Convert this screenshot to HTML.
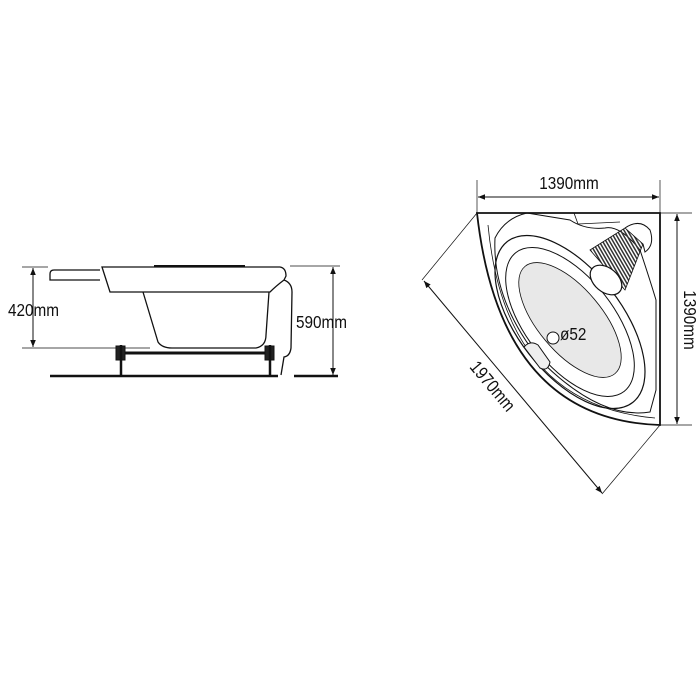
<!DOCTYPE html>
<html><head><style>body{margin:0;background:#fff}svg{display:block}text{font-family:"Liberation Sans",sans-serif;fill:#111}</style></head>
<body>
<svg width="700" height="700" viewBox="0 0 700 700" xmlns="http://www.w3.org/2000/svg">
<defs>
<marker id="a" viewBox="0 0 10 10" refX="10" refY="5" markerWidth="7" markerHeight="7" orient="auto-start-reverse"><path d="M0,1 L10,5 L0,9 z" fill="#111"/></marker>
<pattern id="h" width="3" height="3" patternUnits="userSpaceOnUse" patternTransform="rotate(60)"><rect width="3" height="1.5" fill="#333"/></pattern>
</defs>
<g stroke="#111" fill="none" stroke-width="1">
<line x1="22" y1="267" x2="48" y2="267" stroke-width="0.7"/>
<line x1="22" y1="348" x2="150" y2="348" stroke-width="0.7"/>
<line x1="33" y1="268" x2="33" y2="347" marker-start="url(#a)" marker-end="url(#a)"/>
<line x1="290" y1="266" x2="340" y2="266" stroke-width="0.7"/>
<line x1="333" y1="267" x2="333" y2="375" marker-start="url(#a)" marker-end="url(#a)"/>
<path d="M100,270 L54,270 Q50,270 50,274 L50,280 L100,280" stroke-width="1.3"/>
<path d="M102,267 L280,267 Q286,268 286,276 L284,280 Q276,286 270,292 L146,292 L140,292 L110,292 L102,267 z" stroke-width="1.3"/>
<path d="M154,266 L245,266" stroke-width="2"/>
<path d="M143,292 L158,342 Q162,348 172,348 L256,348 Q266,346 266,335 L269,292" stroke-width="1.3"/>
<path d="M284,280 Q292,283 292,292 L291,348 Q290,356 284,357 L281,375" stroke-width="1.3"/>
<line x1="120" y1="353" x2="272" y2="353" stroke-width="3"/>
<rect x="116" y="346" width="9" height="14" fill="#222"/><line x1="121" y1="345" x2="121" y2="375" stroke-width="2.5"/>
<rect x="265" y="346" width="9" height="14" fill="#222"/><line x1="270" y1="345" x2="270" y2="375" stroke-width="2.5"/>
<line x1="50" y1="376" x2="278" y2="376" stroke-width="2.5"/>
<line x1="294" y1="376" x2="338" y2="376" stroke-width="2.5"/>
<line x1="477" y1="180" x2="477" y2="213" stroke-width="0.7"/>
<line x1="660" y1="180" x2="660" y2="213" stroke-width="0.7"/>
<line x1="478" y1="197" x2="659" y2="197" marker-start="url(#a)" marker-end="url(#a)"/>
<line x1="660" y1="213" x2="692" y2="213" stroke-width="0.7"/>
<line x1="660" y1="425" x2="692" y2="425" stroke-width="0.7"/>
<line x1="677" y1="214" x2="677" y2="424" marker-start="url(#a)" marker-end="url(#a)"/>
<line x1="477" y1="213" x2="422" y2="280" stroke-width="0.7"/>
<line x1="660" y1="425" x2="602" y2="494" stroke-width="0.7"/>
<line x1="424" y1="281" x2="602" y2="493" marker-start="url(#a)" marker-end="url(#a)"/>
<path d="M477,213 L660,213 L660,425 Q500,420 477,213 z" stroke-width="1.8"/>
<path d="M488,225 Q505,405 655,418" stroke-width="0.8"/>
<path d="M527,213 Q505,218 495,238 Q492,300 540,360 Q600,420 650,412 L656,390 L656,300 Q650,280 640,250 Q620,225 605,228 Q585,230 570,220 L527,213" stroke-width="1"/>
<path d="M574,213 L578,224 L620,222" stroke-width="0.8"/>
<ellipse cx="570" cy="322" rx="102" ry="52" transform="rotate(52 570 322)" stroke-width="1.2"/>
<ellipse cx="570" cy="322" rx="88" ry="44" transform="rotate(52 570 322)" stroke-width="1"/>
<ellipse cx="570" cy="320" rx="70" ry="32" transform="rotate(50 570 320)" fill="#e8e8e8" stroke-width="0.8"/>
<path d="M590,250 L625,228 L643,244 L625,290 z" fill="url(#h)" stroke-width="0.8"/>
<path d="M625,228 Q640,218 650,230 Q655,245 645,252 L643,244" stroke-width="1"/>
<ellipse cx="606" cy="280" rx="18" ry="12" transform="rotate(40 606 280)" fill="#fff" stroke-width="1.2"/>
<path d="M524,347 Q530,340 538,345 L550,362 Q548,372 540,368 z" fill="#eee" stroke-width="1"/>
<circle cx="553" cy="338" r="6" fill="#fff" stroke-width="1"/>
</g>
<g font-size="18">
<text transform="translate(8,316) scale(0.85,1)">420mm</text>
<text transform="translate(296,328) scale(0.85,1)">590mm</text>
<text transform="translate(569,189) scale(0.85,1)" text-anchor="middle">1390mm</text>
<text transform="translate(560,340) scale(0.85,1)">ø52</text>
<text transform="translate(684,320) rotate(90) scale(0.85,1)" text-anchor="middle">1390mm</text>
<text transform="translate(488,390) rotate(50) scale(0.85,1)" text-anchor="middle">1970mm</text>
</g>
</svg>
</body></html>
